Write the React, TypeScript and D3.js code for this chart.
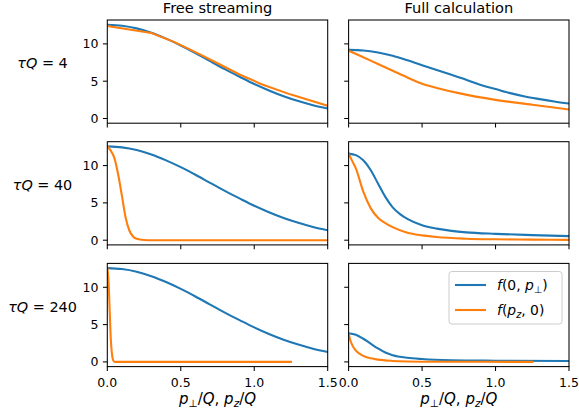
import React from "react"
import * as d3 from "d3"

const colTitles = ["Free streaming", "Full calculation"]
const rowTau = ["4", "40", "240"]
const xTicks = [0, 0.5, 1.0, 1.5]
const xTickLabels = ["0.0", "0.5", "1.0", "1.5"]
const yTicks = [0, 5, 10]
const legendLabels = ["perp", "z"]

// free streaming: f(0, p_perp) stays the same at every tau
const xPerpFree = [0, 0.1, 0.2, 0.3, 0.4, 0.5, 0.6, 0.7, 0.8, 0.9, 1.0, 1.1, 1.2, 1.3, 1.4, 1.5]
const fPerpFree = [12.57, 12.44, 12.08, 11.49, 10.7, 9.79, 8.77, 7.68, 6.61, 5.6, 4.62, 3.75, 2.98, 2.33, 1.77, 1.33]

// free streaming: f(p_z, 0)
const xZFree4 = [0, 0.3, 0.45, 0.6, 0.75, 0.9, 1.05, 1.25, 1.5]
const fZFree4 = [12.4, 11.45, 10.3, 8.9, 7.4, 5.9, 4.6, 3.2, 1.7]
const xZFree40 = [0, 0.038, 0.05, 0.075, 0.1, 0.125, 0.15, 0.175, 0.2, 0.25, 0.3, 1.5]
const fZFree40 = [12.6, 11.5, 10.9, 8.7, 5.9, 3.0, 1.3, 0.5, 0.18, 0.03, 0, 0]
const xZFree240 = [0, 0.008, 0.016, 0.024, 0.032, 0.04, 0.05, 1.25]
const fZFree240 = [12.6, 11, 7, 3, 1, 0.2, 0, 0]

// full calculation
const xPerpFull4 = [0, 0.1, 0.2, 0.3, 0.4, 0.5, 0.6, 0.7, 0.8, 0.9, 1.0, 1.1, 1.2, 1.3, 1.4, 1.5]
const fPerpFull4 = [9.2, 9.12, 8.85, 8.4, 7.8, 7.15, 6.5, 5.85, 5.2, 4.5, 3.95, 3.4, 2.95, 2.6, 2.28, 2.0]
const xZFull4 = [0, 0.1, 0.2, 0.3, 0.4, 0.5, 0.6, 0.75, 1.0, 1.25, 1.5]
const fZFull4 = [9.1, 8.2, 7.3, 6.4, 5.5, 4.65, 4.1, 3.4, 2.5, 1.85, 1.2]
const xPerpFull40 = [0, 0.05, 0.1, 0.15, 0.2, 0.25, 0.3, 0.35, 0.4, 0.5, 0.6, 0.7, 0.8, 1.0, 1.25, 1.5]
const fPerpFull40 = [11.6, 11.4, 10.7, 9.4, 7.6, 5.8, 4.4, 3.5, 2.85, 2.0, 1.55, 1.25, 1.05, 0.85, 0.68, 0.55]
const xZFull40 = [0, 0.025, 0.05, 0.1, 0.15, 0.2, 0.25, 0.3, 0.4, 0.5, 0.6, 0.8, 1.0, 1.25, 1.5]
const fZFull40 = [11.6, 10.6, 9.6, 6.5, 4.3, 3.0, 2.3, 1.75, 1.0, 0.65, 0.42, 0.2, 0.12, 0.08, 0.05]
const xPerpFull240 = [0, 0.05, 0.1, 0.15, 0.2, 0.25, 0.3, 0.4, 0.5, 0.7, 1.0, 1.5]
const fPerpFull240 = [3.85, 3.65, 3.1, 2.45, 1.8, 1.25, 0.9, 0.55, 0.38, 0.22, 0.16, 0.12]
const xZFull240 = [0, 0.01, 0.025, 0.05, 0.1, 0.15, 0.2, 0.3, 0.4, 0.6, 0.9, 1.25]
const fZFull240 = [3.8, 3.0, 2.25, 1.5, 0.8, 0.48, 0.3, 0.13, 0.06, 0.02, 0.01, 0]

const BLUE = "#1f77b4"
const ORANGE = "#ff7f0e"
const TICK_FS = 12.5
const TITLE_FS = 14.6
const LABEL_FS = 15
const LEGEND_FS = 13.9
const TICK_LEN = 4.4

// axes geometry (pixels)
const colX = [107.3, 348.6]
const axW = 220.4
const rowY = [20, 141.7, 263.4]
const axH = 103.2

const panels = [
  { row: 0, col: 0, perp: [xPerpFree, fPerpFree], z: [xZFree4, fZFree4], zLinear: true },
  { row: 0, col: 1, perp: [xPerpFull4, fPerpFull4], z: [xZFull4, fZFull4], zLinear: false },
  { row: 1, col: 0, perp: [xPerpFree, fPerpFree], z: [xZFree40, fZFree40], zLinear: false },
  { row: 1, col: 1, perp: [xPerpFull40, fPerpFull40], z: [xZFull40, fZFull40], zLinear: false },
  { row: 2, col: 0, perp: [xPerpFree, fPerpFree], z: [xZFree240, fZFree240], zLinear: false },
  { row: 2, col: 1, perp: [xPerpFull240, fPerpFull240], z: [xZFull240, fZFull240], zLinear: false },
]

function XLabel({ cx, y }: { cx: number; y: number }) {
  const sub = LABEL_FS * 0.7
  return (
    <text x={cx} y={y} textAnchor="middle" fontSize={LABEL_FS}>
      <tspan fontStyle="italic">p</tspan>
      <tspan fontSize={sub} dy={3}>⊥</tspan>
      <tspan dy={-3}>/</tspan>
      <tspan fontStyle="italic">Q</tspan>
      <tspan>, </tspan>
      <tspan fontStyle="italic">p</tspan>
      <tspan fontSize={sub} fontStyle="italic" dy={3}>z</tspan>
      <tspan dy={-3}>/</tspan>
      <tspan fontStyle="italic">Q</tspan>
    </text>
  )
}

function LegendText({ kind, x, y }: { kind: string; x: number; y: number }) {
  const sub = LEGEND_FS * 0.7
  if (kind === "perp") {
    return (
      <text x={x} y={y} fontSize={LEGEND_FS}>
        <tspan fontStyle="italic">f</tspan>
        <tspan>(0, </tspan>
        <tspan fontStyle="italic">p</tspan>
        <tspan fontSize={sub} dy={3}>⊥</tspan>
        <tspan dy={-3}>)</tspan>
      </text>
    )
  }
  return (
    <text x={x} y={y} fontSize={LEGEND_FS}>
      <tspan fontStyle="italic">f</tspan>
      <tspan>(</tspan>
      <tspan fontStyle="italic">p</tspan>
      <tspan fontSize={sub} fontStyle="italic" dy={3}>z</tspan>
      <tspan dy={-3}>, 0)</tspan>
    </text>
  )
}

export default function App() {
  return (
    <svg
      width={579}
      height={417}
      style={{ position: "absolute", left: 0, top: 0, background: "#fff" }}
      fontFamily="DejaVu Sans"
    >
      {panels.map((p, i) => {
        const x0 = colX[p.col]
        const y0 = rowY[p.row]
        const x = d3.scaleLinear().domain([0, 1.5]).range([x0, x0 + axW])
        const y = d3.scaleLinear().domain([-0.63, 13.2]).range([y0 + axH, y0])
        const mk = (curve: any) =>
          d3
            .line<[number, number]>()
            .x((d) => x(d[0]))
            .y((d) => y(d[1]))
            .curve(curve)
        const perpPts = d3.zip(p.perp[0], p.perp[1]) as [number, number][]
        const zPts = d3.zip(p.z[0], p.z[1]) as [number, number][]
        const bottom = y0 + axH
        return (
          <g key={i}>
            <clipPath id={`clip${i}`}>
              <rect x={x0} y={y0} width={axW} height={axH} />
            </clipPath>
            <g clipPath={`url(#clip${i})`} fill="none" strokeWidth={2.1} strokeLinejoin="round" strokeLinecap="square">
              <path d={mk(d3.curveMonotoneX)(perpPts) || ""} stroke={BLUE} />
              <path d={mk(p.zLinear ? d3.curveLinear : d3.curveMonotoneX)(zPts) || ""} stroke={ORANGE} />
            </g>
            <rect x={x0} y={y0} width={axW} height={axH} fill="none" stroke="#000" strokeWidth={1.05} />
            {xTicks.map((t, j) => (
              <g key={`x${j}`}>
                <line x1={x(t)} x2={x(t)} y1={bottom} y2={bottom + TICK_LEN} stroke="#000" strokeWidth={1.05} />
                {p.row === 2 && (
                  <text x={x(t)} y={bottom + 20} textAnchor="middle" fontSize={TICK_FS} fill="#000">
                    {xTickLabels[j]}
                  </text>
                )}
              </g>
            ))}
            {yTicks.map((t, j) => (
              <g key={`y${j}`}>
                <line x1={x0 - TICK_LEN} x2={x0} y1={y(t)} y2={y(t)} stroke="#000" strokeWidth={1.05} />
                {p.col === 0 && (
                  <text x={x0 - 2 * TICK_LEN} y={y(t) + 4.5} textAnchor="end" fontSize={TICK_FS} fill="#000">
                    {t}
                  </text>
                )}
              </g>
            ))}
          </g>
        )
      })}

      {colTitles.map((t, c) => (
        <text key={t} x={colX[c] + axW / 2} y={13.4} textAnchor="middle" fontSize={TITLE_FS}>
          {t}
        </text>
      ))}

      {rowTau.map((t, r) => (
        <text key={t} x={42.5} y={rowY[r] + axH / 2 - 3.4} textAnchor="middle" fontSize={14.4}>
          <tspan fontStyle="italic">τQ</tspan>
          <tspan> = {t}</tspan>
        </text>
      ))}

      {colX.map((cx, c) => (
        <XLabel key={c} cx={cx + axW / 2} y={403.5} />
      ))}

      {/* legend in bottom-right axes */}
      <g>
        <rect x={449} y={271.5} width={113} height={52.5} rx={2.8} fill="#fff" fillOpacity={0.8} stroke="#cccccc" strokeWidth={1} />
        {legendLabels.map((k, j) => {
          const cy = 285 + j * 25
          return (
            <g key={k}>
              <line x1={455} x2={486} y1={cy} y2={cy} stroke={j === 0 ? BLUE : ORANGE} strokeWidth={2.1} />
              <LegendText kind={k} x={497} y={cy + 5} />
            </g>
          )
        })}
      </g>
    </svg>
  )
}
